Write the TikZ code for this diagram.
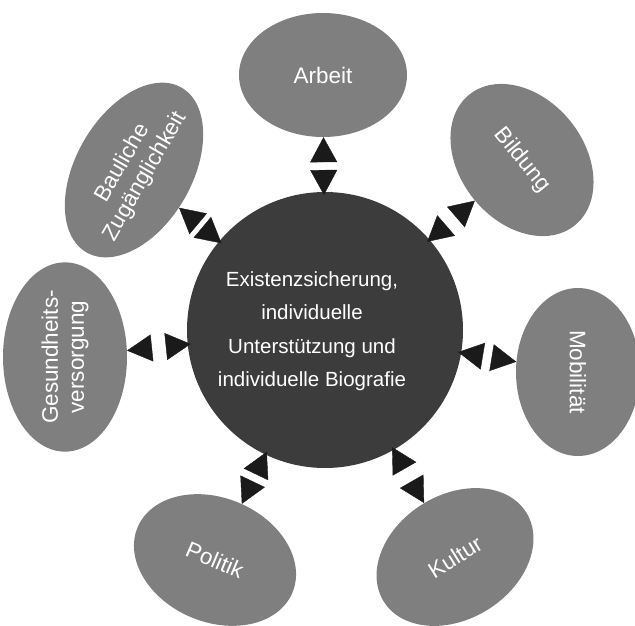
\documentclass[tikz,border=0pt]{standalone}
\usepackage{fontspec}
\setmainfont{Liberation Sans}
\usetikzlibrary{arrows.meta,shapes.geometric,decorations.markings}
\definecolor{hubgray}{HTML}{3C3C3C}
\definecolor{blobgray}{HTML}{7F7F7F}
\definecolor{tipblack}{HTML}{1A1A1A}

\begin{document}
\begin{tikzpicture}[x=1pt,y=-1pt,
		blob/.style={ellipse, fill=blobgray, text=white, inner sep=0pt, minimum width=168pt, minimum height=124pt, font=\fontsize{22.5}{26}\selectfont, align=center},
		hub/.style={circle, fill=hubgray, text=white, inner sep=0pt, outer sep=-3pt, minimum size=276pt, font=\fontsize{20.5}{33.5}\selectfont},
		pair/.style={tipblack, postaction={decorate}, decoration={markings,
			mark=at position 0 with {\arrowreversed{Triangle[length=25pt,width=27pt]}},
			mark=at position 1 with {\arrow{Triangle[length=25pt,width=27pt]}}}}]
	\useasboundingbox (0,0) rectangle (635,626);

	\node[hub] (hub) at (325,330) {\makebox[0pt]{\kern-26pt\raisebox{-3pt}{\begin{tabular}{@{}c@{}}Existenzsicherung,\\individuelle\\Unterstützung und\\individuelle Biografie\end{tabular}}}};

	\node[blob] (arbeit) at (323,75) {Arbeit};
	\node[blob, rotate=-51] (bildung) at (522,160) {Bildung};
	\node[blob, rotate=-90] (mobil) at (578,372) {Mobilität};
	\node[blob, rotate=32] (kultur) at (455,557) {Kultur};
	\node[blob, rotate=-23] (politik) at (215,560) {Politik};
	\node[blob, rotate=90] (gesund) at (65,357) {Gesundheits-\\versorgung};
	\node[blob, rotate=60, inner xsep=-5.3pt, minimum height=116pt] (bau) at (134,170) {Bauliche\\Zugänglichkeit};

	\foreach \n in {arbeit,bildung,mobil,kultur,politik,gesund,bau}
		\path[pair] (hub) -- (\n);
\end{tikzpicture}
\end{document}
